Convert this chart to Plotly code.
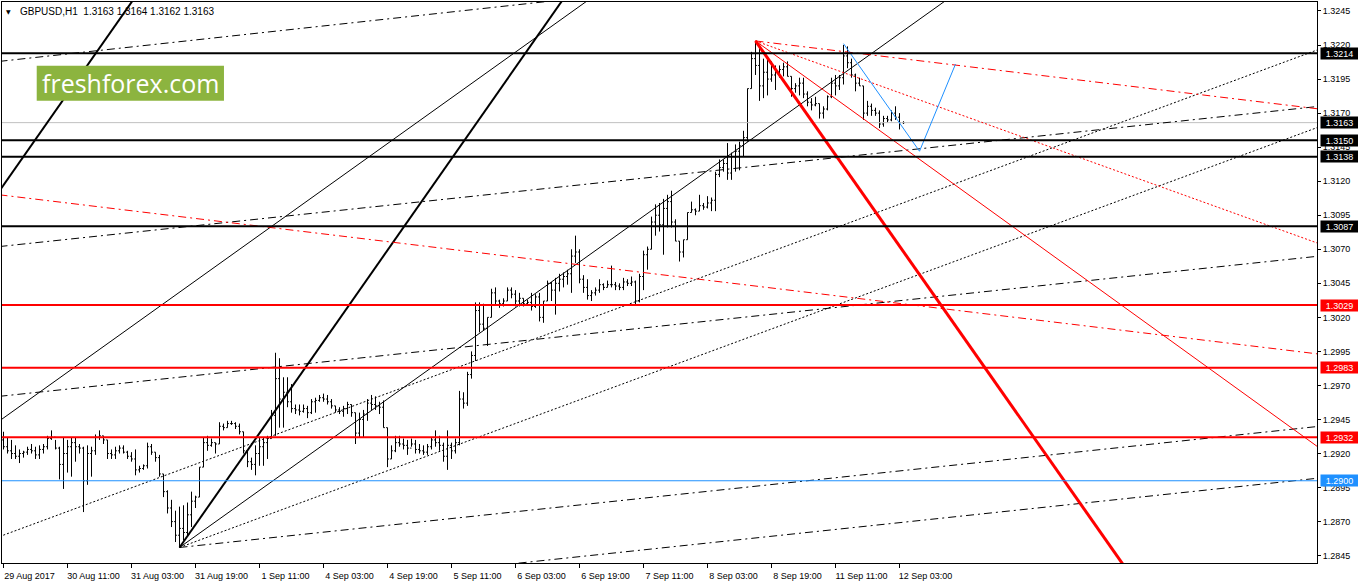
import plotly.graph_objects as go

# GBPUSD H1 bars (bar index 0 = 29 Aug 2017 19:00)
highs = [
    1.2936, 1.2932, 1.2930, 1.2926, 1.2923, 1.2922, 1.2925, 1.2927, 1.2925, 1.2926,
    1.2927, 1.2933, 1.2937, 1.2930, 1.2925, 1.2932, 1.2930, 1.2932, 1.2932, 1.2927,
    1.2925, 1.2926, 1.2925, 1.2934, 1.2937, 1.2933, 1.2930, 1.2923, 1.2925, 1.2926,
    1.2926, 1.2922, 1.2921, 1.2923, 1.2911, 1.2912, 1.2928, 1.2927, 1.2921, 1.2919,
    1.2905, 1.2893, 1.2886, 1.2878, 1.2881, 1.2882, 1.2884, 1.2892, 1.2889, 1.2910,
    1.2932, 1.2933, 1.2931, 1.2928, 1.2943, 1.2942, 1.2944, 1.2944, 1.2943, 1.2942,
    1.2936, 1.2922, 1.2917, 1.2926, 1.2932, 1.2932, 1.2933, 1.2952, 1.2994, 1.2990,
    1.2976, 1.2976, 1.2971, 1.2956, 1.2956, 1.2956, 1.2955, 1.2960, 1.2961, 1.2963,
    1.2964, 1.2963, 1.2960, 1.2955, 1.2954, 1.2955, 1.2958, 1.2956, 1.2950, 1.2950,
    1.2952, 1.2960, 1.2963, 1.2962, 1.2958, 1.2959, 1.2939, 1.2926, 1.2933, 1.2933,
    1.2931, 1.2930, 1.2931, 1.2930, 1.2927, 1.2926, 1.2927, 1.2932, 1.2937, 1.2933,
    1.2928, 1.2937, 1.2928, 1.2931, 1.2966, 1.2965, 1.2980, 1.2995, 1.3031, 1.3031,
    1.3030, 1.3020, 1.3041, 1.3042, 1.3033, 1.3034, 1.3042, 1.3042, 1.3040, 1.3038,
    1.3034, 1.3033, 1.3038, 1.3037, 1.3038, 1.3032, 1.3047, 1.3046, 1.3049, 1.3052,
    1.3053, 1.3055, 1.3070, 1.3080, 1.3070, 1.3051, 1.3048, 1.3040, 1.3042, 1.3048,
    1.3045, 1.3047, 1.3058, 1.3046, 1.3045, 1.3049, 1.3048, 1.3050, 1.3047, 1.3052,
    1.3069, 1.3072, 1.3094, 1.3103, 1.3104, 1.3107, 1.3110, 1.3113, 1.3092, 1.3076,
    1.3077, 1.3097, 1.3105, 1.3100, 1.3110, 1.3104, 1.3109, 1.3108, 1.3127, 1.3136,
    1.3136, 1.3148, 1.3141, 1.3147, 1.3149, 1.3157, 1.3188, 1.3215, 1.3223, 1.3218,
    1.3210, 1.3209, 1.3208, 1.3205, 1.3205, 1.3207, 1.3208, 1.3197, 1.3192, 1.3196,
    1.3196, 1.3186, 1.3181, 1.3182, 1.3177, 1.3175, 1.3183, 1.3196, 1.3198, 1.3198,
    1.3220, 1.3219, 1.3210, 1.3199, 1.3196, 1.3190, 1.3179, 1.3177, 1.3174, 1.3172,
    1.3168, 1.3168, 1.3172, 1.3175, 1.3170, 1.3164,
]
lows = [
    1.2923, 1.2920, 1.2916, 1.2916, 1.2913, 1.2917, 1.2919, 1.2920, 1.2916, 1.2916,
    1.2920, 1.2923, 1.2930, 1.2923, 1.2901, 1.2894, 1.2906, 1.2903, 1.2914, 1.2920,
    1.2877, 1.2897, 1.2903, 1.2919, 1.2930, 1.2927, 1.2916, 1.2916, 1.2916, 1.2920,
    1.2920, 1.2916, 1.2914, 1.2904, 1.2906, 1.2908, 1.2909, 1.2919, 1.2914, 1.2903,
    1.2888, 1.2876, 1.2866, 1.2855, 1.2851, 1.2856, 1.2860, 1.2866, 1.2880, 1.2888,
    1.2910, 1.2922, 1.2925, 1.2920, 1.2927, 1.2937, 1.2939, 1.2941, 1.2938, 1.2934,
    1.2920, 1.2910, 1.2908, 1.2904, 1.2911, 1.2911, 1.2916, 1.2931, 1.2933, 1.2939,
    1.2939, 1.2954, 1.2950, 1.2949, 1.2948, 1.2950, 1.2946, 1.2949, 1.2950, 1.2958,
    1.2958, 1.2956, 1.2953, 1.2950, 1.2949, 1.2947, 1.2949, 1.2947, 1.2927, 1.2932,
    1.2932, 1.2944, 1.2952, 1.2952, 1.2949, 1.2939, 1.2910, 1.2916, 1.2921, 1.2925,
    1.2923, 1.2919, 1.2925, 1.2920, 1.2920, 1.2919, 1.2919, 1.2923, 1.2925, 1.2922,
    1.2914, 1.2908, 1.2916, 1.2920, 1.2926, 1.2953, 1.2955, 1.2975, 1.2988, 1.3009,
    1.3010, 1.2999, 1.3020, 1.3029, 1.3027, 1.3028, 1.3032, 1.3034, 1.3028, 1.3028,
    1.3028, 1.3029, 1.3025, 1.3027, 1.3017, 1.3016, 1.3032, 1.3032, 1.3022, 1.3039,
    1.3042, 1.3044, 1.3038, 1.3060, 1.3045, 1.3038, 1.3033, 1.3032, 1.3036, 1.3038,
    1.3040, 1.3042, 1.3042, 1.3040, 1.3040, 1.3040, 1.3043, 1.3043, 1.3029, 1.3031,
    1.3040, 1.3055, 1.3070, 1.3080, 1.3083, 1.3066, 1.3086, 1.3086, 1.3076, 1.3061,
    1.3064, 1.3077, 1.3097, 1.3095, 1.3098, 1.3099, 1.3100, 1.3098, 1.3098, 1.3123,
    1.3127, 1.3121, 1.3121, 1.3127, 1.3128, 1.3138, 1.3149, 1.3188, 1.3198, 1.3179,
    1.3181, 1.3183, 1.3193, 1.3187, 1.3196, 1.3197, 1.3197, 1.3182, 1.3185, 1.3183,
    1.3181, 1.3175, 1.3172, 1.3175, 1.3166, 1.3166, 1.3172, 1.3181, 1.3183, 1.3187,
    1.3191, 1.3203, 1.3196, 1.3186, 1.3190, 1.3165, 1.3168, 1.3168, 1.3168, 1.3159,
    1.3160, 1.3163, 1.3164, 1.3165, 1.3158, 1.3162,
]
closes = [
    1.2925, 1.2922, 1.2920, 1.2918, 1.2920, 1.2921, 1.2923, 1.2922, 1.2919, 1.2923,
    1.2925, 1.2931, 1.2932, 1.2924, 1.2912, 1.2920, 1.2925, 1.2928, 1.2925, 1.2924,
    1.2900, 1.2920, 1.2922, 1.2932, 1.2933, 1.2930, 1.2920, 1.2919, 1.2922, 1.2924,
    1.2921, 1.2918, 1.2916, 1.2908, 1.2909, 1.2911, 1.2925, 1.2921, 1.2917, 1.2905,
    1.2892, 1.2880, 1.2870, 1.2860, 1.2865, 1.2862, 1.2875, 1.2885, 1.2888, 1.2910,
    1.2928, 1.2926, 1.2928, 1.2927, 1.2940, 1.2939, 1.2942, 1.2942, 1.2940, 1.2936,
    1.2922, 1.2914, 1.2912, 1.2920, 1.2925, 1.2928, 1.2931, 1.2948, 1.2975, 1.2960,
    1.2965, 1.2958, 1.2953, 1.2952, 1.2951, 1.2953, 1.2950, 1.2958, 1.2959, 1.2961,
    1.2960, 1.2958, 1.2955, 1.2952, 1.2951, 1.2953, 1.2956, 1.2950, 1.2935, 1.2945,
    1.2949, 1.2957, 1.2956, 1.2955, 1.2954, 1.2939, 1.2916, 1.2922, 1.2928, 1.2927,
    1.2926, 1.2924, 1.2927, 1.2923, 1.2922, 1.2921, 1.2925, 1.2930, 1.2928, 1.2926,
    1.2918, 1.2926, 1.2922, 1.2928, 1.2960, 1.2957, 1.2978, 1.2992, 1.3025, 1.3015,
    1.3012, 1.3020, 1.3038, 1.3032, 1.3030, 1.3032, 1.3040, 1.3037, 1.3032, 1.3034,
    1.3030, 1.3031, 1.3028, 1.3035, 1.3020, 1.3032, 1.3045, 1.3040, 1.3045, 1.3048,
    1.3050, 1.3052, 1.3065, 1.3068, 1.3048, 1.3042, 1.3036, 1.3038, 1.3040, 1.3044,
    1.3042, 1.3044, 1.3044, 1.3043, 1.3042, 1.3046, 1.3045, 1.3046, 1.3032, 1.3050,
    1.3066, 1.3070, 1.3090, 1.3095, 1.3088, 1.3100, 1.3105, 1.3090, 1.3076, 1.3068,
    1.3077, 1.3097, 1.3099, 1.3098, 1.3102, 1.3101, 1.3104, 1.3106, 1.3125, 1.3130,
    1.3133, 1.3126, 1.3138, 1.3142, 1.3146, 1.3152, 1.3188, 1.3210, 1.3205, 1.3190,
    1.3200, 1.3195, 1.3198, 1.3200, 1.3202, 1.3204, 1.3197, 1.3188, 1.3190, 1.3192,
    1.3184, 1.3178, 1.3176, 1.3177, 1.3170, 1.3173, 1.3182, 1.3192, 1.3190, 1.3196,
    1.3212, 1.3207, 1.3198, 1.3192, 1.3190, 1.3170, 1.3175, 1.3172, 1.3170, 1.3162,
    1.3166, 1.3165, 1.3170, 1.3167, 1.3163, 1.3163,
]
# each bar opens where the previous one closed
opens = [1.2930] + closes[:-1]
bars = list(range(len(closes)))

# time axis labels every 16 bars
tick_bars = [0, 16, 32, 48, 64, 80, 96, 112, 128, 144, 160, 176, 192, 208, 224]
tick_text = ["29 Aug 2017", "30 Aug 11:00", "31 Aug 03:00", "31 Aug 19:00",
             "1 Sep 11:00", "4 Sep 03:00", "4 Sep 19:00", "5 Sep 11:00",
             "6 Sep 03:00", "6 Sep 19:00", "7 Sep 11:00", "8 Sep 03:00",
             "8 Sep 19:00", "11 Sep 11:00", "12 Sep 03:00"]
price_ticks = [1.3245, 1.3220, 1.3195, 1.3170, 1.3145, 1.3120, 1.3095, 1.3070,
               1.3045, 1.3020, 1.2995, 1.2970, 1.2945, 1.2920, 1.2895, 1.2870, 1.2845]

# horizontal levels
black_levels = [1.3214, 1.3150, 1.3138, 1.3087]
red_levels = [1.3029, 1.2983, 1.2932]
blue_levels = [1.2900]
last_price = 1.3163

# trend lines as ((bar, price), (bar, price))
thick_black_lines = [((-1, 1.3113), (35, 1.3264)), ((44, 1.2851), (145, 1.3275))]
thin_black_lines = [((-1, 1.2944), (150, 1.3261)), ((44, 1.2851), (240, 1.3262))]
dotted_black_lines = [((-1, 1.2859), (329, 1.3217)), ((44, 1.2851), (329, 1.3160))]
dashdot_black_lines = [((-1, 1.3208), (329, 1.3314)), ((-1, 1.3072), (329, 1.3175)),
                       ((-1, 1.2962), (329, 1.3065)), ((44, 1.2851), (329, 1.2940)),
                       ((-1, 1.2799), (329, 1.2902))]
dashdot_red_lines = [((188, 1.3223), (329, 1.3173)), ((-1, 1.3110), (329, 1.2993))]
dotted_red_lines = [((188, 1.3223), (329, 1.3074))]
thin_red_lines = [((188, 1.3223), (329, 1.2924))]
thick_red_lines = [((188, 1.3223), (329, 1.2633))]
zigzag_bars = [210, 229, 238]
zigzag_prices = [1.3221, 1.3142, 1.3206]

X_RANGE = [-0.375, 328.375]
Y_RANGE = [1.28396, 1.32516]
BLUE = "#1E90FF"
FONT = "Liberation Sans, Arial, sans-serif"

fig = go.Figure()

fig.add_trace(go.Ohlc(
    x=bars, open=opens, high=highs, low=lows, close=closes,
    increasing_line_color="black", decreasing_line_color="black",
    line_width=1, tickwidth=0.35, hoverinfo="skip",
))


def add_line(xs, ys, color, width, dash="solid"):
    fig.add_trace(go.Scatter(
        x=xs, y=ys, mode="lines", hoverinfo="skip",
        line=dict(color=color, width=width, dash=dash),
    ))


def add_lines(lines, color, width, dash="solid"):
    for (x0, y0), (x1, y1) in lines:
        add_line([x0, x1], [y0, y1], color, width, dash)


DOT = "2px,2px"
DASHDOT = "8px,4px,2px,4px"

add_line([-1, 330], [last_price, last_price], "#C0C0C0", 1)
add_lines(dashdot_black_lines, "black", 1, DASHDOT)
add_lines(dotted_black_lines, "black", 1, DOT)
add_lines(thin_black_lines, "black", 1)
add_lines(thick_black_lines, "black", 2)
add_lines(dashdot_red_lines, "red", 1, DASHDOT)
add_lines(dotted_red_lines, "red", 1, DOT)
add_lines(thin_red_lines, "red", 1)
add_lines(thick_red_lines, "red", 3)
add_line(zigzag_bars, zigzag_prices, BLUE, 1)

for v in black_levels:
    add_line([-1, 330], [v, v], "black", 2)
for v in red_levels:
    add_line([-1, 330], [v, v], "red", 2)
for v in blue_levels:
    add_line([-1, 330], [v, v], BLUE, 1)

# price tags on the right scale
tags = [(v, "black") for v in black_levels] + [(last_price, "black")] + \
       [(v, "red") for v in red_levels] + [(v, BLUE) for v in blue_levels]
for v, c in tags:
    fig.add_annotation(
        x=1, xref="paper", xanchor="left", xshift=3,
        y=v, yref="y", yanchor="middle",
        text=f"{v:.4f}", showarrow=False, bgcolor=c,
        width=37, height=11, borderpad=0,
        font=dict(family=FONT, size=9, color="white"),
    )

# symbol header
fig.add_annotation(
    x=0, xref="paper", xanchor="left", xshift=16,
    y=1, yref="paper", yanchor="middle", yshift=-9,
    text="GBPUSD,H1&nbsp; 1.3163 1.3164 1.3162 1.3163", showarrow=False,
    font=dict(family=FONT, size=10, color="black"),
)
fig.add_annotation(
    x=0, xref="paper", xanchor="center", xshift=6.5,
    y=1, yref="paper", yanchor="middle", yshift=-9,
    text="▼", showarrow=False,
    font=dict(family="DejaVu Sans", size=6, color="black"),
)

# logo
fig.add_shape(type="rect", xref="paper", yref="paper",
              x0=0.0264, x1=0.1688, y0=0.8241, y1=0.8865,
              fillcolor="#8CB43F", line_width=0, layer="above")
fig.add_annotation(
    x=0.0976, xref="paper", xanchor="center",
    y=0.8556, yref="paper", yanchor="middle",
    text="freshforex.com", showarrow=False,
    font=dict(family="Open Sans", size=25, color="white"),
)

fig.update_layout(
    width=1358, height=584,
    margin=dict(l=2, r=41, t=2, b=21),
    paper_bgcolor="white", plot_bgcolor="white",
    showlegend=False, hovermode=False,
    font=dict(family=FONT, size=9, color="black"),
    xaxis=dict(
        range=X_RANGE, tickmode="array", tickvals=tick_bars, ticktext=tick_text,
        ticks="outside", ticklen=4, tickcolor="black", ticklabelshift=26,
        showgrid=False, zeroline=False, showline=True, mirror=True,
        linecolor="black", linewidth=1, rangeslider=dict(visible=False),
        fixedrange=True,
    ),
    yaxis=dict(
        range=Y_RANGE, side="right", tickmode="array",
        tickvals=price_ticks, ticktext=[f"{v:.4f}" for v in price_ticks],
        ticks="outside", ticklen=3, tickcolor="black",
        showgrid=False, zeroline=False, showline=True, mirror=True,
        linecolor="black", linewidth=1, fixedrange=True,
    ),
)

# drop the default page margin so the figure fills the window exactly
fig.write_html("out.html", config={"displayModeBar": False},
               post_script="document.body.style.margin='0';"
                           "document.body.style.overflow='hidden';")
